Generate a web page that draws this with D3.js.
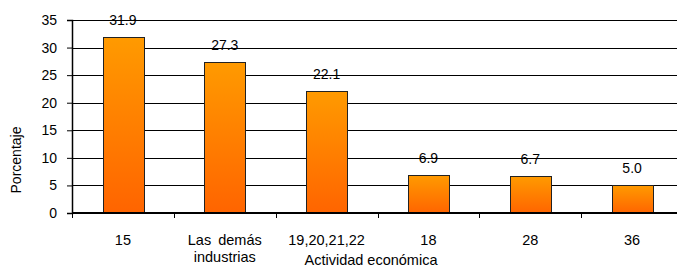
<!DOCTYPE html>
<html>
<head>
<meta charset="utf-8">
<script src="https://cdn.jsdelivr.net/npm/d3@7"></script>
<style>
  body { margin: 0; background: #fff; }
  svg { display: block; overflow: hidden; }
  text { font-family: "Liberation Sans", Arial, sans-serif; fill: #000; }
</style>
</head>
<body>
<svg id="chart" width="677" height="267"></svg>
<script>
// data
var categories = ["15", "Las demás|industrias", "19,20,21,22", "18", "28", "36"];
var values = [31.9, 27.3, 22.1, 6.9, 6.7, 5.0];
var yTicks = [0, 5, 10, 15, 20, 25, 30, 35];

var svg = d3.select("#chart");
var margin = {top: 20, left: 72, bottom: 54};
var plotW = 611;
var plotH = 267 - margin.top - margin.bottom;

var defs = svg.append("defs");
var grad = defs.append("linearGradient")
    .attr("id", "barFill")
    .attr("x1", 0).attr("y1", 0).attr("x2", 0).attr("y2", 1);
grad.append("stop").attr("offset", "0%").attr("stop-color", "#ff9a00");
grad.append("stop").attr("offset", "100%").attr("stop-color", "#ff6400");

var g = svg.append("g")
    .attr("transform", "translate(" + margin.left + "," + margin.top + ")");

var x = d3.scaleBand()
    .domain(categories)
    .range([0, plotW])
    .paddingInner(0.6)
    .paddingOuter(0.3);

var xStep = d3.scaleBand().domain(categories).range([0, plotW]);

var y = d3.scaleLinear()
    .domain([0, 35])
    .range([plotH, 0]);

// gridlines
g.append("g")
    .selectAll("line")
    .data(yTicks.slice(1))
    .enter()
    .append("line")
    .attr("x1", 0)
    .attr("x2", plotW)
    .attr("y1", function (d) { return Math.round(y(d)) + 0.5; })
    .attr("y2", function (d) { return Math.round(y(d)) + 0.5; })
    .attr("stroke", "#000")
    .attr("stroke-width", 1);

// bars
g.append("g")
    .selectAll("rect")
    .data(values)
    .enter()
    .append("rect")
    .attr("x", function (d, i) { return Math.round(x(categories[i])) + 0.5; })
    .attr("y", function (d) { return Math.round(y(d)) + 0.5; })
    .attr("width", Math.round(x.bandwidth()))
    .attr("height", function (d) { return Math.round(plotH - y(d)); })
    .attr("fill", "url(#barFill)")
    .attr("stroke", "#222")
    .attr("stroke-width", 1);

// value labels
g.append("g")
    .selectAll("text")
    .data(values)
    .enter()
    .append("text")
    .attr("x", function (d, i) { return x(categories[i]) + x.bandwidth() / 2; })
    .attr("y", function (d) { return y(d) - 12; })
    .attr("text-anchor", "middle")
    .style("font-size", "14px")
    .text(function (d) { return d.toFixed(1); });

// y axis
var yAxis = g.append("g")
    .call(d3.axisLeft(y).tickValues(yTicks).tickSize(5).tickPadding(10));
yAxis.select(".domain").attr("stroke", "#000").attr("stroke-width", 1.5);
yAxis.selectAll(".tick line").attr("stroke", "#000");
yAxis.selectAll("text").style("font-size", "14px").attr("font-family", null);

// x axis with ticks between categories
var xAxisG = g.append("g")
    .attr("transform", "translate(0," + plotH + ")");
xAxisG.append("line")
    .attr("x1", 0).attr("x2", plotW)
    .attr("y1", 0).attr("y2", 0)
    .attr("stroke", "#000")
    .attr("stroke-width", 2);
xAxisG.selectAll(".xtick")
    .data(categories)
    .enter()
    .append("line")
    .attr("class", "xtick")
    .attr("x1", function (d) { return Math.round(xStep(d)) + 0.5; })
    .attr("x2", function (d) { return Math.round(xStep(d)) + 0.5; })
    .attr("y1", 0)
    .attr("y2", 5)
    .attr("stroke", "#000");

var xLabels = xAxisG.selectAll(".xlab")
    .data(categories)
    .enter()
    .append("text")
    .attr("class", "xlab")
    .attr("x", function (d) { return xStep(d) + xStep.bandwidth() / 2; })
    .attr("y", 32)
    .attr("text-anchor", "middle")
    .style("font-size", "14.5px")
    .style("word-spacing", "3px");
xLabels.selectAll("tspan")
    .data(function (d) { return d.split("|"); })
    .enter()
    .append("tspan")
    .attr("x", function () { return d3.select(this.parentNode).attr("x"); })
    .attr("dy", function (d, i) { return i === 0 ? 0 : 17; })
    .text(function (d) { return d; });

// axis titles
svg.append("text")
    .attr("x", 371)
    .attr("y", 265)
    .attr("text-anchor", "middle")
    .style("font-size", "14.5px")
    .text("Actividad económica");

svg.append("text")
    .attr("transform", "translate(21,160) rotate(-90)")
    .attr("text-anchor", "middle")
    .style("font-size", "14px")
    .text("Porcentaje");
</script>
</body>
</html>
